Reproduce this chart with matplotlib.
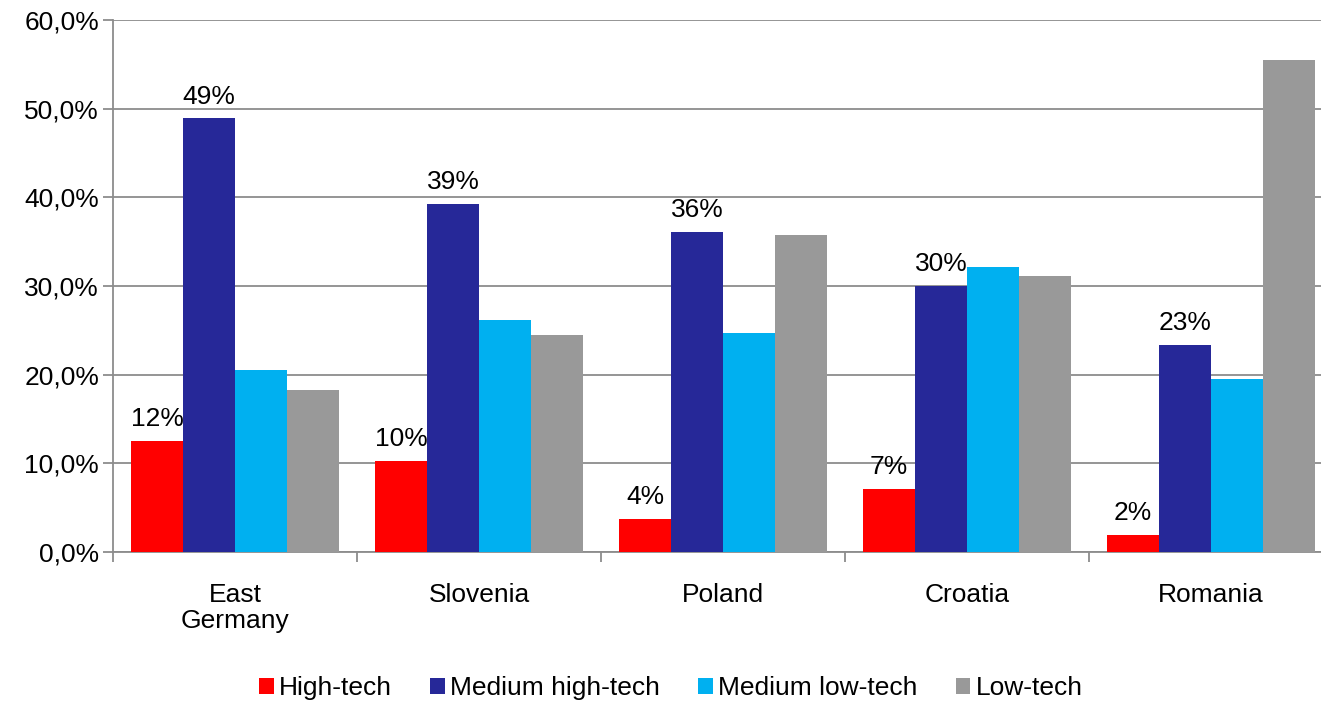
import matplotlib.pyplot as plt
import numpy as np

countries = ['East\nGermany', 'Slovenia', 'Poland', 'Croatia', 'Romania']
series = ['High-tech', 'Medium high-tech', 'Medium low-tech', 'Low-tech']
high_tech = [12.5, 10.3, 3.7, 7.1, 1.9]
medium_high = [48.9, 39.3, 36.1, 30.0, 23.4]
medium_low = [20.5, 26.2, 24.7, 32.1, 19.5]
low_tech = [18.3, 24.5, 35.7, 31.1, 55.5]
labelled = [True, True, False, False]

colors = ['#FF0000', '#262898', '#00B0F0', '#999999']

if __name__ == '__main__':
    plt.rcParams['font.family'] = ['Liberation Sans', 'DejaVu Sans']
    fig = plt.figure(figsize=(13.21, 7.03), dpi=100)
    ax = fig.add_axes([113 / 1321, 1 - 552 / 703, 1220 / 1321, 532 / 703])

    x = np.arange(len(countries))
    width = 0.213
    data = [high_tech, medium_high, medium_low, low_tech]
    for i, (name, vals) in enumerate(zip(series, data)):
        pos = x + (i - 1.5) * width
        bars = ax.bar(pos, vals, width, color=colors[i], label=name, zorder=3)
        if labelled[i]:
            for b, v in zip(bars, vals):
                ax.annotate('%d%%' % round(v), (b.get_x() + b.get_width() / 2, v),
                            xytext=(0, 7), textcoords='offset points',
                            ha='center', va='bottom', fontsize=19)

    ax.set_xlim(-0.5, len(countries) - 0.5)
    ax.set_ylim(0, 60)
    ax.set_yticks(np.arange(0, 61, 10))
    ax.yaxis.set_major_formatter(plt.FuncFormatter(lambda v, p: ('%.1f%%' % v).replace('.', ',')))
    ax.yaxis.grid(True, color='#8c8c8c', linewidth=1.3, zorder=0)

    ax.set_xticks(x)
    ax.set_xticklabels(countries, fontsize=19, linespacing=1.15)
    ax.set_xticks(np.arange(-0.5, len(countries), 1), minor=True)
    ax.tick_params(axis='x', which='major', length=0, pad=22)
    ax.tick_params(axis='x', which='minor', length=7, color='#8c8c8c', width=1.3)
    ax.tick_params(axis='y', length=7, color='#8c8c8c', width=1.3, labelsize=19, pad=3)

    for s in ['top', 'right']:
        ax.spines[s].set_visible(False)
    for s in ['left', 'bottom']:
        ax.spines[s].set_color('#8c8c8c')
        ax.spines[s].set_linewidth(1.3)

    # legend under the plot, small square handles
    fig.legend(loc='lower center', bbox_to_anchor=(671 / 1321, -0.03), ncol=4,
               frameon=False, fontsize=19, handlelength=0.55, handleheight=0.55,
               handletextpad=0.2, columnspacing=1.45)

    fig.savefig('out.png', dpi=100)
